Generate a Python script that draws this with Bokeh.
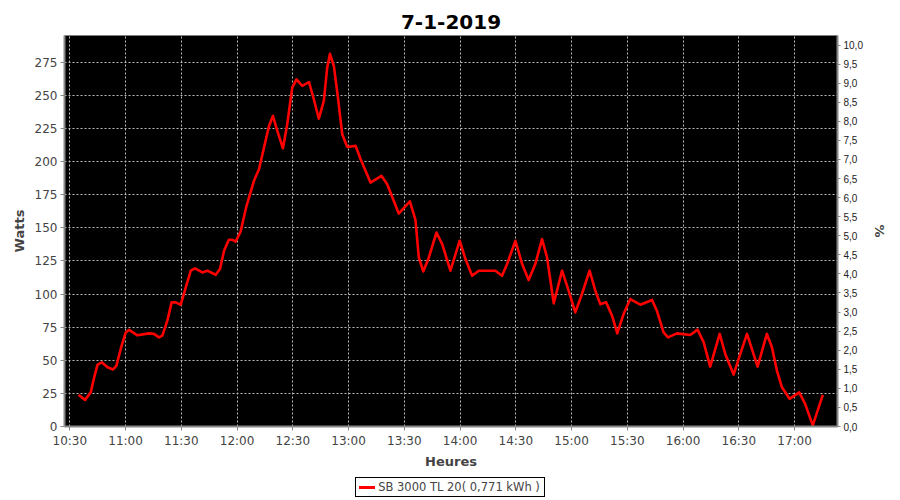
import pandas as pd
from bokeh.plotting import figure
from bokeh.layouts import column
from bokeh.models import (Range1d, LinearAxis, FixedTicker, DatetimeTickFormatter,
                          CustomJSTickFormatter, ColumnDataSource, Div)
from bokeh.embed import file_html
from bokeh.resources import INLINE

# ---- data ----
DAY = "2019-01-07"
START = "10:30"
# minutes after 10:30
time_min = [4.7, 8.2, 11.3, 13.1, 14.9, 17.2, 20.3, 23.3, 25.1, 27.4, 30.1, 31.9, 36.4,
            42.6, 45.3, 48.0, 49.8, 52.5, 54.8, 57.0, 59.7, 62.4, 65.1, 67.4, 71.3, 74.0,
            78.5, 80.8, 83.0, 85.6, 87.5, 89.2, 91.9, 95.0, 99.1, 101.8, 104.5, 107.2,
            109.3, 111.7, 114.7, 117.0, 119.7, 122.0, 125.1, 128.7, 131.3, 134.0, 136.7,
            138.5, 140.0, 142.1, 144.3, 146.6, 149.3, 153.8, 156.5, 161.8, 167.7, 170.8,
            177.0, 183.0, 186.0, 187.8, 190.2, 193.2, 197.3, 200.4, 204.8, 209.8, 212.9,
            216.5, 220.0, 229.0, 232.6, 235.3, 239.8, 243.4, 246.9, 250.5, 254.1, 256.8,
            260.4, 264.9, 268.4, 272.0, 275.6, 279.7, 282.8, 285.5, 288.6, 291.8, 294.6,
            298.0, 301.6, 307.0, 313.3, 315.9, 319.5, 321.9, 326.7, 333.9, 337.8, 341.1,
            344.6, 349.7, 352.7, 357.2, 360.8, 364.4, 370.1, 375.1, 377.8, 380.5, 383.2,
            387.3, 392.5, 395.7, 399.8, 405.2]
watts = [23.9, 20.1, 25.9, 37.0, 46.5, 48.5, 44.7, 43.0, 46.0, 58.5, 71.0, 72.9, 68.8,
         70.3, 69.9, 67.3, 68.6, 79.9, 93.7, 93.7, 91.9, 105.0, 117.6, 119.3, 116.3, 117.6,
         114.5, 118.8, 132.6, 140.9, 140.9, 139.5, 147.0, 166.0, 185.4, 194.2, 210.5, 226.8,
         234.4, 223.0, 210.0, 228.1, 255.7, 262.0, 257.0, 260.0, 247.0, 232.3, 245.7,
         270.8, 281.3, 272.0, 248.2, 220.6, 211.0, 211.8, 201.7, 184.1, 189.2, 182.9,
         160.7, 170.0, 156.0, 127.6, 117.0, 127.6, 146.4, 137.7, 117.6, 140.2, 126.4,
         113.8, 117.6, 117.6, 113.8, 122.6, 140.2, 122.6, 110.5, 122.6, 141.4, 127.6,
         92.9, 117.6, 102.5, 86.1, 100.0, 117.6, 102.5, 92.2, 93.7, 83.6, 70.3,
         84.9, 96.2, 91.9, 95.5, 87.4, 71.1, 67.3, 70.3, 69.1, 73.1, 63.5,
         45.2, 69.9, 54.8, 39.2, 54.8, 69.9, 45.2, 69.9, 59.8, 42.2, 29.6,
         20.9, 25.8, 17.1, 0.8, 23.9]
x_tick_labels = ["10:30", "11:00", "11:30", "12:00", "12:30", "13:00", "13:30",
                 "14:00", "14:30", "15:00", "15:30", "16:00", "16:30", "17:00"]
watt_ticks = [0, 25, 50, 75, 100, 125, 150, 175, 200, 225, 250, 275]
pct_ticks = [0.0, 0.5, 1.0, 1.5, 2.0, 2.5, 3.0, 3.5, 4.0, 4.5, 5.0, 5.5, 6.0, 6.5,
             7.0, 7.5, 8.0, 8.5, 9.0, 9.5, 10.0]
series_label = "SB 3000 TL 20( 0,771 kWh )"
title_text = "7-1-2019"

base = pd.Timestamp(f"{DAY} {START}")
times = [base + pd.Timedelta(minutes=m) for m in time_min]
src = ColumnDataSource(dict(t=times, w=watts))

x_start = pd.Timestamp(f"{DAY} 10:27:09")
x_end = pd.Timestamp(f"{DAY} 17:23:06")

p = figure(width=900, height=474, x_axis_type="datetime",
           x_range=Range1d(x_start, x_end), y_range=Range1d(0, 295.1),
           output_backend="svg", toolbar_location=None,
           min_border_left=64, min_border_right=63, min_border_top=35,
           min_border_bottom=48)

p.background_fill_color = "black"
p.border_fill_color = "white"
p.outline_line_color = None

p.title.text = title_text
p.title.align = "center"
p.title.vertical_align = "top"
p.title.text_font = "DejaVu Sans"
p.title.text_font_size = "20px"
p.title.text_font_style = "bold"
p.title.text_color = "black"
p.title.standoff = 10

r = p.line("t", "w", source=src, line_color="#ff0000", line_width=2.6,
           line_join="round")

tick_ms = [(pd.Timestamp(f"{DAY} {lbl}") - pd.Timestamp("1970-01-01")).total_seconds() * 1000
           for lbl in x_tick_labels]

xa = p.xaxis[0]
xa.ticker = FixedTicker(ticks=tick_ms)
xa.formatter = DatetimeTickFormatter(minutes="%H:%M", hourmin="%H:%M", hours="%H:%M",
                                     seconds="%H:%M", minsec="%H:%M")
xa.axis_label = "Heures"

ya = p.yaxis[0]
ya.ticker = FixedTicker(ticks=watt_ticks)
ya.axis_label = "Watts"

for ax in (xa, ya):
    ax.axis_label_text_font = "DejaVu Sans"
    ax.axis_label_text_font_size = "13px"
    ax.axis_label_text_font_style = "bold"
    ax.axis_label_text_color = "#444444"
    ax.major_label_text_font = "DejaVu Sans"
    ax.major_label_text_font_size = "12px"
    ax.major_label_text_color = "#444444"
    ax.axis_line_color = "#888888"
    ax.axis_line_width = 2
    ax.major_tick_line_color = "#888888"
    ax.major_tick_in = 0
    ax.major_tick_out = 4
    ax.minor_tick_line_color = None
    ax.major_label_standoff = 3
xa.axis_label_standoff = 3
ya.axis_label_standoff = 5

p.extra_y_ranges = {"pct": Range1d(0, 10.25)}
ra = LinearAxis(y_range_name="pct", axis_label="%")
ra.ticker = FixedTicker(ticks=pct_ticks)
ra.formatter = CustomJSTickFormatter(code="return tick.toFixed(1).replace('.', ',');")
ra.major_label_text_font = "Liberation Sans"
ra.major_label_text_font_size = "10px"
ra.major_label_text_color = "#222222"
ra.axis_label_text_font = "DejaVu Sans"
ra.axis_label_text_font_size = "13px"
ra.axis_label_text_font_style = "bold"
ra.axis_label_text_color = "#444444"
ra.axis_line_color = "#888888"
ra.axis_line_width = 2
ra.major_tick_line_color = "#888888"
ra.major_tick_in = 0
ra.major_tick_out = 3
ra.minor_tick_line_color = None
ra.major_label_standoff = 3
ra.axis_label_standoff = 6
p.add_layout(ra, "right")

for g in (p.xgrid[0], p.ygrid[0]):
    g.grid_line_color = "#bbbbbb"
    g.grid_line_dash = "2 2"
    g.grid_line_width = 1

legend_html = (
    '<div style="width:900px;text-align:center;padding-top:3px;">'
    '<div style="display:inline-block;border:1px solid black;background:white;'
    'padding:1px 4px 1px 3px;font-family:\'DejaVu Sans\';font-size:11.5px;color:#444444;'
    'line-height:16px;white-space:nowrap;">'
    '<span style="display:inline-block;width:16px;height:3px;background:#ff0000;'
    'vertical-align:middle;margin-right:3px;"></span>'
    f'{series_label}</div></div>'
)
legend_div = Div(text=legend_html, width=900, height=24, margin=(0, 0, 0, 0))

layout = column(p, legend_div, spacing=0)

open("out.html", "w").write(file_html(layout, INLINE))
